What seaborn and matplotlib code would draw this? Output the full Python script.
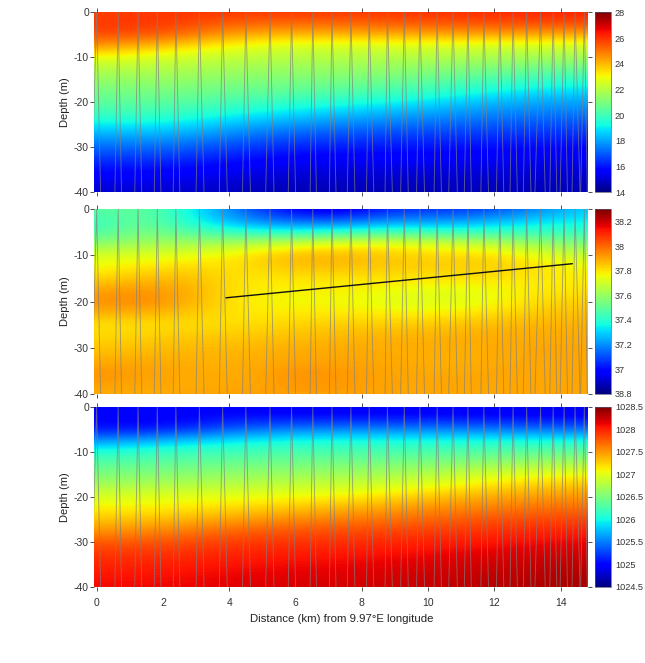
import matplotlib
matplotlib.use("Agg")
import matplotlib.pyplot as plt
from matplotlib.cm import ScalarMappable
from matplotlib.colors import Normalize
import numpy as np
import pandas as pd
import seaborn as sns

# Regular sampling grids of the sections
depths = [0, -2.5, -5, -7.5, -10, -12.5, -15, -17.5, -20, -22.5, -25, -27.5, -30, -32.5, -35, -37.5, -40]
dist_t = [0, 2, 4, 6, 8, 10, 12, 14, 16]
dist_s = [0, 1.5, 3, 4.5, 6, 7.5, 9, 10.5, 12, 13.5, 15]

# Temperature (deg C), one column per distance
temp_0 = [25.7, 25.9, 25.6, 24.6, 22.9, 22.0, 21.4, 20.9, 20.4, 19.9, 19.0, 18.0, 17.2, 16.5, 15.9, 15.4, 15.0]
temp_2 = [26.0, 26.0, 25.5, 23.8, 22.6, 22.0, 21.5, 21.0, 20.5, 20.0, 19.1, 18.2, 17.3, 16.5, 15.9, 15.4, 15.0]
temp_4 = [25.9, 25.3, 24.3, 23.0, 22.2, 21.7, 21.2, 20.7, 20.1, 19.3, 18.4, 17.5, 16.7, 16.1, 15.5, 15.1, 14.8]
temp_6 = [25.9, 25.2, 23.9, 22.5, 22.0, 21.5, 21.0, 20.5, 19.7, 18.8, 17.8, 16.9, 16.2, 15.6, 15.2, 14.9, 14.6]
temp_8 = [25.9, 25.3, 24.1, 22.6, 22.0, 21.5, 21.0, 20.3, 19.4, 18.4, 17.5, 16.7, 16.1, 15.6, 15.2, 14.9, 14.7]
temp_10 = [26.0, 25.5, 24.2, 22.6, 22.0, 21.3, 20.6, 19.9, 18.9, 18.0, 17.2, 16.5, 16.0, 15.6, 15.2, 14.9, 14.7]
temp_12 = [26.1, 25.6, 24.3, 22.5, 21.8, 21.0, 20.1, 19.2, 18.3, 17.6, 17.0, 16.4, 15.9, 15.5, 15.2, 14.9, 14.7]
temp_14 = [26.2, 25.7, 24.2, 22.5, 21.7, 20.7, 19.7, 18.8, 18.0, 17.4, 16.8, 16.3, 15.8, 15.5, 15.2, 14.9, 14.7]
temp_16 = [26.2, 25.7, 24.2, 22.5, 21.7, 20.7, 19.7, 18.8, 18.0, 17.4, 16.8, 16.3, 15.8, 15.5, 15.2, 14.9, 14.7]

# Salinity, one row per depth
sal_000 = [37.48, 37.52, 37.33, 37.12, 36.95, 36.93, 37.05, 37.05, 37.08, 37.20, 37.30]
sal_025 = [37.42, 37.52, 37.35, 37.20, 37.12, 37.12, 37.20, 37.20, 37.25, 37.32, 37.35]
sal_050 = [37.45, 37.56, 37.46, 37.40, 37.38, 37.42, 37.45, 37.42, 37.42, 37.42, 37.42]
sal_075 = [37.58, 37.63, 37.62, 37.66, 37.72, 37.76, 37.76, 37.72, 37.68, 37.60, 37.55]
sal_100 = [37.72, 37.73, 37.75, 37.80, 37.88, 37.88, 37.84, 37.82, 37.82, 37.74, 37.68]
sal_125 = [37.76, 37.80, 37.82, 37.80, 37.86, 37.86, 37.84, 37.84, 37.84, 37.80, 37.76]
sal_150 = [37.82, 37.87, 37.86, 37.79, 37.80, 37.80, 37.80, 37.80, 37.80, 37.79, 37.78]
sal_175 = [37.90, 37.93, 37.88, 37.78, 37.78, 37.78, 37.76, 37.74, 37.76, 37.79, 37.80]
sal_200 = [37.93, 37.96, 37.87, 37.78, 37.76, 37.77, 37.73, 37.72, 37.76, 37.82, 37.84]
sal_225 = [37.88, 37.88, 37.84, 37.79, 37.79, 37.79, 37.78, 37.78, 37.81, 37.85, 37.86]
sal_250 = [37.80, 37.81, 37.81, 37.81, 37.83, 37.84, 37.84, 37.85, 37.87, 37.88, 37.88]
sal_275 = [37.82, 37.83, 37.85, 37.84, 37.86, 37.87, 37.88, 37.88, 37.89, 37.89, 37.89]
sal_300 = [37.85, 37.86, 37.87, 37.87, 37.89, 37.89, 37.89, 37.89, 37.89, 37.90, 37.90]
sal_325 = [37.88, 37.89, 37.88, 37.88, 37.90, 37.90, 37.89, 37.88, 37.89, 37.90, 37.90]
sal_350 = [37.93, 37.91, 37.89, 37.89, 37.93, 37.92, 37.90, 37.89, 37.90, 37.90, 37.90]
sal_375 = [37.92, 37.90, 37.89, 37.89, 37.93, 37.92, 37.90, 37.90, 37.90, 37.90, 37.90]
sal_400 = [37.89, 37.89, 37.90, 37.91, 37.91, 37.91, 37.90, 37.90, 37.90, 37.90, 37.90]

# Potential density (kg/m3), one column per distance
dens_0 = [1024.95, 1025.0, 1025.05, 1025.55, 1026.05, 1026.3, 1026.5, 1026.7, 1026.95, 1027.1, 1027.3, 1027.5, 1027.75, 1027.9, 1027.98, 1028.05, 1028.1]
dens_2 = [1024.95, 1024.95, 1025.05, 1025.7, 1026.15, 1026.35, 1026.55, 1026.75, 1027.0, 1027.12, 1027.32, 1027.55, 1027.78, 1027.92, 1028.0, 1028.07, 1028.1]
dens_4 = [1025.0, 1025.05, 1025.35, 1025.9, 1026.2, 1026.4, 1026.6, 1026.8, 1027.02, 1027.2, 1027.45, 1027.7, 1027.88, 1027.98, 1028.06, 1028.12, 1028.15]
dens_6 = [1024.9, 1025.05, 1025.5, 1026.0, 1026.25, 1026.45, 1026.65, 1026.85, 1027.07, 1027.3, 1027.55, 1027.78, 1027.92, 1028.02, 1028.1, 1028.15, 1028.2]
dens_8 = [1024.9, 1025.05, 1025.5, 1026.0, 1026.25, 1026.47, 1026.68, 1026.9, 1027.12, 1027.4, 1027.62, 1027.82, 1027.95, 1028.05, 1028.12, 1028.17, 1028.2]
dens_10 = [1024.9, 1025.05, 1025.5, 1026.0, 1026.25, 1026.5, 1026.75, 1027.0, 1027.3, 1027.52, 1027.7, 1027.87, 1028.0, 1028.1, 1028.17, 1028.22, 1028.25]
dens_12 = [1024.9, 1025.02, 1025.45, 1026.0, 1026.3, 1026.6, 1026.95, 1027.2, 1027.42, 1027.6, 1027.8, 1027.93, 1028.05, 1028.15, 1028.22, 1028.27, 1028.3]
dens_14 = [1024.85, 1025.02, 1025.4, 1026.0, 1026.35, 1026.7, 1027.05, 1027.3, 1027.5, 1027.68, 1027.85, 1028.0, 1028.12, 1028.2, 1028.27, 1028.32, 1028.35]
dens_16 = [1024.85, 1025.02, 1025.4, 1026.0, 1026.35, 1026.7, 1027.05, 1027.3, 1027.5, 1027.68, 1027.85, 1028.0, 1028.12, 1028.2, 1028.27, 1028.32, 1028.35]

# Glider casts: distance where each one leaves the 40 m level, turns at the surface, and returns
cast_down = [-0.15, 0.55, 1.15, 1.74, 2.31, 3.0, 3.7, 4.4, 5.1, 5.78, 6.44, 7.02, 7.56, 8.14, 8.7,
             9.17, 9.65, 10.18, 10.62, 11.09, 11.59, 12.06, 12.47, 12.87, 13.22, 13.67, 13.98, 14.34, 14.6]
cast_top = [0.0, 0.65, 1.25, 1.83, 2.39, 3.1, 3.8, 4.5, 5.23, 5.88, 6.52, 7.1, 7.67, 8.22, 8.77,
            9.28, 9.75, 10.27, 10.75, 11.2, 11.68, 12.16, 12.56, 12.97, 13.39, 13.77, 14.1, 14.43, 14.71]
cast_up = [0.12, 0.75, 1.36, 1.94, 2.51, 3.24, 3.94, 4.64, 5.35, 6.0, 6.63, 7.22, 7.79, 8.36, 8.92,
           9.4, 9.89, 10.4, 10.88, 11.3, 11.82, 12.28, 12.69, 13.1, 13.53, 13.88, 14.2, 14.58, 14.8]

# Reference transect drawn on the salinity section
transect_x = [3.9, 14.35]
transect_z = [-19.2, -11.8]

x_ticks = [0, 2, 4, 6, 8, 10, 12, 14]
y_ticks = [0, -10, -20, -30, -40]

temp_ticks = [14, 16, 18, 20, 22, 24, 26, 28]
temp_labels = ["14", "16", "18", "20", "22", "24", "26", "28"]
sal_ticks = [36.8, 37.0, 37.2, 37.4, 37.6, 37.8, 38.0, 38.2]
sal_labels = ["38.8", "37", "37.2", "37.4", "37.6", "37.8", "38", "38.2"]
dens_ticks = [1024.5, 1025, 1025.5, 1026, 1026.5, 1027, 1027.5, 1028, 1028.5]
dens_labels = ["1024.5", "1025", "1025.5", "1026", "1026.5", "1027", "1027.5", "1028", "1028.5"]

sns.set_theme(style="ticks")
plt.rcParams["font.family"] = ["Liberation Sans", "DejaVu Sans"]
plt.rcParams["axes.unicode_minus"] = False

W, H = 645, 663
fig = plt.figure(figsize=(W / 100, H / 100), dpi=100)


def box(left, top, right, bottom):
    return [left / W, 1 - bottom / H, (right - left) / W, (bottom - top) / H]


rows = [(12.3, 192.3), (209.3, 393.7), (406.7, 586.7)]
temperature = np.column_stack([temp_0, temp_2, temp_4, temp_6, temp_8, temp_10, temp_12, temp_14, temp_16])
salinity = np.vstack([sal_000, sal_025, sal_050, sal_075, sal_100, sal_125, sal_150, sal_175, sal_200, sal_225,
                      sal_250, sal_275, sal_300, sal_325, sal_350, sal_375, sal_400])
density = np.column_stack([dens_0, dens_2, dens_4, dens_6, dens_8, dens_10, dens_12, dens_14, dens_16])
panels = [
    (dist_t, temperature, 14, 28, temp_ticks, temp_labels),
    (dist_s, salinity, 36.8, 38.3, sal_ticks, sal_labels),
    (dist_t, density, 1024.5, 1028.5, dens_ticks, dens_labels),
]

# Long table of the casts, one inverted V per cast
casts = pd.DataFrame({
    "cast": np.repeat(np.arange(len(cast_top)), 3),
    "distance": np.column_stack([cast_down, cast_top, cast_up]).ravel(),
    "depth": np.tile([-40.0, 0.0, -40.0], len(cast_top)),
})

for i, ((top, bottom), (xs, field, vmin, vmax, ticks, labels)) in enumerate(zip(rows, panels)):
    ax = fig.add_axes(box(94.3, top, 588.3, bottom))
    half_x = (xs[1] - xs[0]) / 2
    half_z = (depths[0] - depths[1]) / 2
    ax.imshow(field, cmap="jet", vmin=vmin, vmax=vmax, aspect="auto", origin="upper",
              interpolation="bicubic", interpolation_stage="data",
              extent=(xs[0] - half_x, xs[-1] + half_x, depths[-1] - half_z, depths[0] + half_z))
    sns.lineplot(data=casts, x="distance", y="depth", units="cast", estimator=None, sort=False,
                 color="#808080", alpha=0.7, linewidth=0.65, ax=ax, legend=False)
    if i == 1:
        sns.lineplot(x=transect_x, y=transect_z, color="#111111", linewidth=1.0, ax=ax, legend=False)
    ax.set_xlim(-0.07, 14.83)
    ax.set_ylim(-40, 0)
    ax.set_xticks(x_ticks)
    ax.set_yticks(y_ticks)
    ax.tick_params(axis="both", length=2.8, width=0.6, color="#333333", labelcolor="#333333",
                   labelsize=7.5, top=True, right=True)
    ax.tick_params(axis="y", pad=1.0)
    ax.tick_params(axis="x", labelbottom=(i == 2), pad=5)
    # The 2 and 6 km positions carry a label only
    for tick, value in zip(ax.xaxis.get_major_ticks(), x_ticks):
        if value in (2, 6):
            tick.tick1line.set_visible(False)
            tick.tick2line.set_visible(False)
    if i == 0:
        ax.yaxis.get_major_ticks()[3].tick2line.set_visible(False)
    for spine in ax.spines.values():
        spine.set_visible(False)
    ax.set_ylabel("Depth (m)", fontsize=8, color="#222222", labelpad=3)
    ax.set_xlabel("Distance (km) from 9.97°E longitude" if i == 2 else "", fontsize=8.2,
                  color="#222222", labelpad=5)

    cax = fig.add_axes(box(595, top, 610.7, bottom))
    bar = fig.colorbar(ScalarMappable(Normalize(vmin, vmax), "jet"), cax=cax)
    bar.set_ticks(ticks)
    bar.set_ticklabels(labels)
    bar.ax.tick_params(length=0, labelsize=6.6, labelcolor="#333333", pad=3)
    bar.outline.set_linewidth(0.5)
    bar.outline.set_edgecolor("#555577")

fig.savefig("out.png", dpi=100)
